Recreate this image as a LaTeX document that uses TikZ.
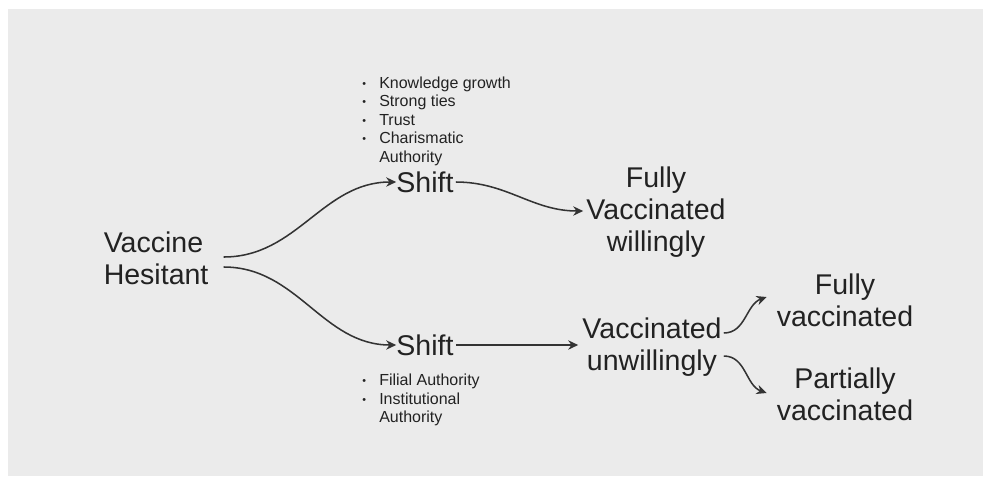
\documentclass[tikz,border=0pt]{standalone}
\usepackage{fontspec}
\setmainfont{Liberation Sans}
\usetikzlibrary{arrows.meta,calc}
\definecolor{panel}{HTML}{EBEBEB}
\definecolor{ink}{HTML}{222222}
\definecolor{wire}{HTML}{333333}
\newcommand\bulletmark{\makebox[12.75pt][l]{\raisebox{1pt}{\fontsize{8}{8}\selectfont\textbullet}}}

\begin{document}
\begin{tikzpicture}[x=0.75pt,y=-0.75pt,
  big/.style={font=\fontsize{21.4}{24}\selectfont, text=ink, inner sep=0pt, align=center},
  note/.style={font=\fontsize{12}{13.9}\selectfont, text=ink, inner sep=0pt, align=left},
  link/.style={draw=wire, line width=1.15pt, -{Stealth[length=7.5pt,width=7pt]}},
]
\useasboundingbox (0,0) rectangle (983,476);
\fill[panel] (8,9) rectangle (983,476);

% states
\node[big, align=left, anchor=west] (vh) at (103.5,258) {Vaccine\\Hesitant};
\node[big] (s1) at (425,182) {Shift};
\node[big] (s2) at (425,345) {Shift};
\node[big] (fvw) at (656,212) {Fully\\Vaccinated\\willingly};
\node[big] (vu) at (652,347) {Vaccinated\\unwillingly};
\node[big] (fv) at (845,300) {Fully\\vaccinated};
\node[big] (pv) at (845,394) {Partially\\vaccinated};

% drivers of each shift
\node[note, anchor=north west] (up) at (362,76.5) {\bulletmark Knowledge growth\\\bulletmark Strong ties\\\bulletmark Trust\\\bulletmark Charismatic\\\hspace*{12.75pt}Authority};
\node[note, anchor=north west] (down) at (362,374) {\bulletmark Filial Authority\\\bulletmark Institutional\\\hspace*{12.75pt}Authority};

% transitions
\draw[link] ($(vh.east)+(15,-1)$) to[out=0,in=180] (s1.west);
\draw[link] ($(vh.east)+(15,9)$) to[out=0,in=180] (s2.west);
\draw[link] ($(s1.east)+(2,0)$) to[out=0,in=180] ($(fvw.west)+(-3,-1)$);
\draw[link] ($(s2.east)+(2,0)$) -- ($(s2.east -| vu.west)+(-4,0)$);
\draw[link] ($(vu.east)+(2,-14)$) to[out=0,in=200] ($(fv.west)+(-10,-3)$);
\draw[link] ($(vu.east)+(2,9)$) to[out=0,in=160] ($(pv.west)+(-10,-1)$);
\end{tikzpicture}
\end{document}
